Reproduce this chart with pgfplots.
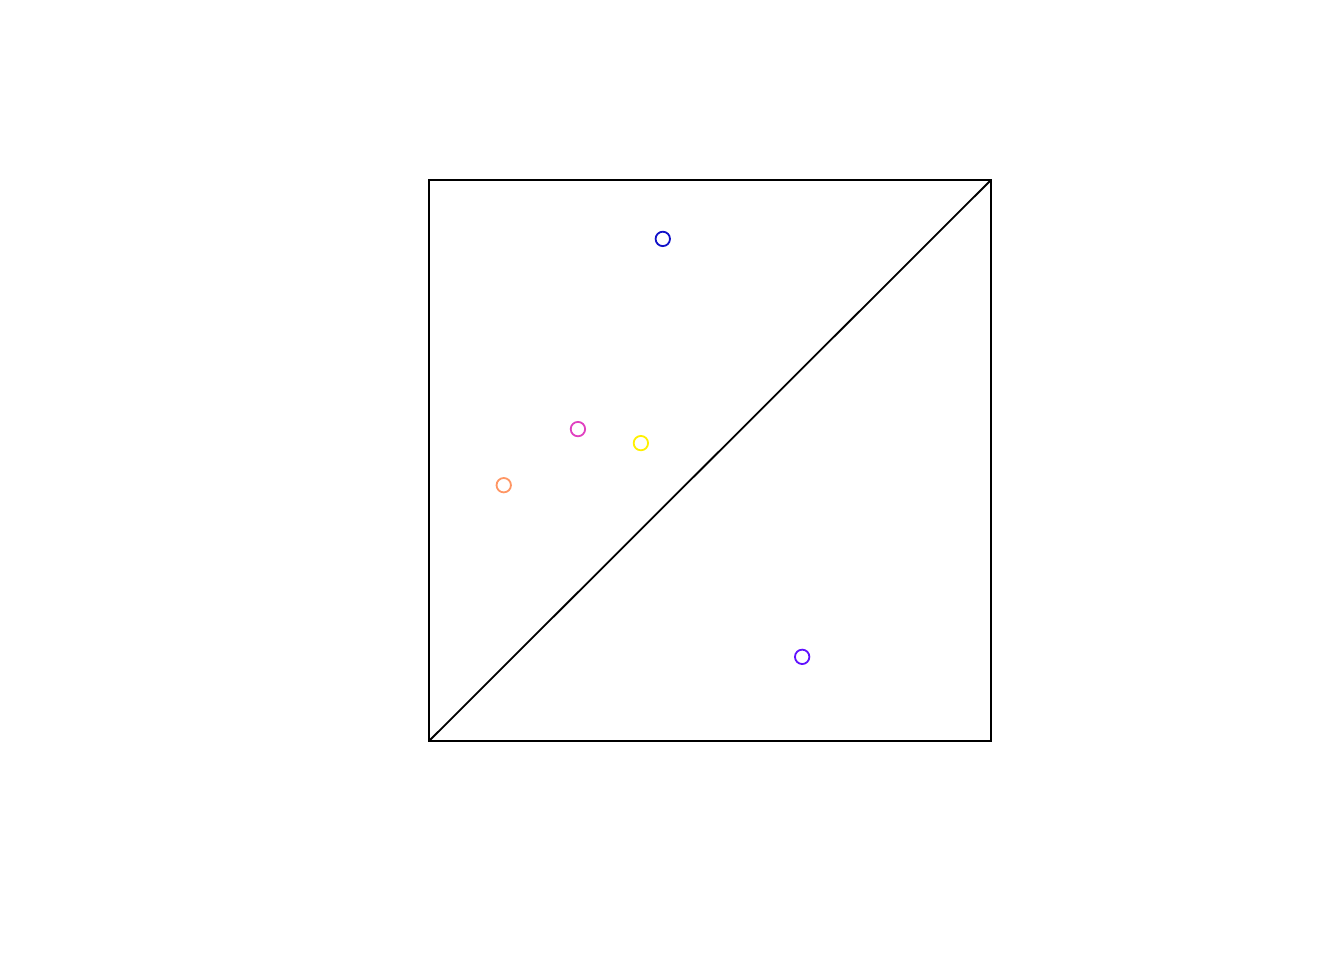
\documentclass[border=0pt]{standalone}
\usepackage{pgfplots}
\pgfplotsset{compat=1.18}
\definecolor{cblue}{RGB}{16,16,200}
\definecolor{cmag}{RGB}{224,64,192}
\definecolor{cyel}{RGB}{255,240,0}
\definecolor{corg}{RGB}{255,150,100}
\definecolor{cpur}{RGB}{96,16,255}
\begin{document}
\begin{tikzpicture}
\path[use as bounding box] (0,0) rectangle (672pt,480pt);
\begin{axis}[
  at={(214.5pt,109.5pt)}, anchor=south west,
  scale only axis, width=281pt, height=280.5pt,
  xmin=0, xmax=1, ymin=0, ymax=1,
  xtick=\empty, ytick=\empty,
  axis line style={line width=0.9pt},
  clip=false,
]
\addplot[black, line width=0.9pt] coordinates {(0,0) (1,1)};
\addplot[only marks, mark=o, mark size=3.6pt, line width=0.9pt, cblue] coordinates {(0.416,0.895)};
\addplot[only marks, mark=o, mark size=3.6pt, line width=0.9pt, cmag] coordinates {(0.265,0.556)};
\addplot[only marks, mark=o, mark size=3.6pt, line width=0.9pt, cyel] coordinates {(0.377,0.531)};
\addplot[only marks, mark=o, mark size=3.6pt, line width=0.9pt, corg] coordinates {(0.133,0.456)};
\addplot[only marks, mark=o, mark size=3.6pt, line width=0.9pt, cpur] coordinates {(0.664,0.150)};
\end{axis}
\end{tikzpicture}
\end{document}
